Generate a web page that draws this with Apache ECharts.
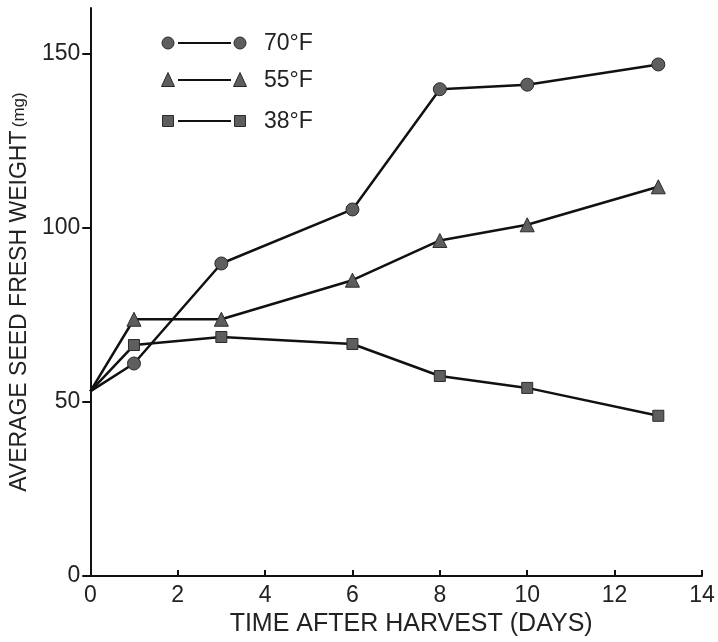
<!DOCTYPE html>
<html>
<head>
<meta charset="utf-8">
<script src="https://cdn.jsdelivr.net/npm/echarts@6/dist/echarts.min.js"></script>
<style>html,body{margin:0;padding:0;background:#fff}#c{width:718px;height:642px}</style>
</head>
<body>
<div id="c"></div>
<script>
const days = [0, 1, 3, 6, 8, 10, 13];
const temp70 = [53, 61, 89.7, 105.2, 139.7, 141, 146.8];
const temp55 = [53, 73.7, 73.7, 84.9, 96.3, 100.8, 111.7];
const temp38 = [53, 66.3, 68.6, 66.6, 57.4, 54, 46];
const seriesNames = ['70°F', '55°F', '38°F'];
const yTicks = [0, 50, 100, 150];
const xTicks = [0, 2, 4, 6, 8, 10, 12, 14];

const FONT = 'Liberation Sans';
const markFill = '#5e5e5e';
const markBorder = '#2a2a2a';

function pts(vals) { return days.map((d, i) => [d, vals[i]]); }

function mkSeries(name, vals, symbol, size) {
  return {
    name: name, type: 'line', data: pts(vals),
    symbol: symbol, symbolSize: size, showAllSymbol: true,
    lineStyle: { color: '#111', width: 2.5 },
    itemStyle: { color: markFill, borderColor: markBorder, borderWidth: 1 },
    z: 3
  };
}

const s70 = mkSeries(seriesNames[0], temp70, 'circle', 13);
const s55 = mkSeries(seriesNames[1], temp55, 'triangle', 14);
const s38 = mkSeries(seriesNames[2], temp38, 'rect', 11);
[s70, s55, s38].forEach(s => { s.data[0] = { value: s.data[0], symbol: 'none' }; });

function legendRow(y, symbol, size, label) {
  function mark(cx) {
    if (symbol === 'circle') return { type: 'circle', shape: { cx: cx, cy: y, r: size / 2 }, style: { fill: markFill, stroke: markBorder, lineWidth: 1 } };
    if (symbol === 'rect') return { type: 'rect', shape: { x: cx - size / 2, y: y - size / 2, width: size, height: size }, style: { fill: markFill, stroke: markBorder, lineWidth: 1 } };
    return { type: 'polygon', shape: { points: [[cx, y - size / 2 - 1], [cx + size / 2, y + size / 2], [cx - size / 2, y + size / 2]] }, style: { fill: markFill, stroke: markBorder, lineWidth: 1 } };
  }
  return [
    mark(168), mark(240),
    { type: 'line', shape: { x1: 178, y1: y, x2: 231, y2: y }, style: { stroke: '#111', lineWidth: 2 } },
    { type: 'text', left: 264, top: y - 11, style: { text: label, font: '23px "' + FONT + '"', fill: '#222' } }
  ];
}

const chart = echarts.init(document.getElementById('c'));
chart.setOption({
  animation: false,
  backgroundColor: '#fff',
  grid: { left: 90, right: 16, top: 8, bottom: 63 },
  xAxis: {
    type: 'value', min: 0, max: 14, interval: 2,
    name: 'TIME AFTER HARVEST (DAYS)', nameLocation: 'middle', nameGap: 34,
    nameTextStyle: { fontFamily: FONT, fontSize: 25, color: '#222', padding: [0, 0, 0, 30] },
    axisLine: { show: true, lineStyle: { color: '#111', width: 2 } },
    axisTick: { show: true, inside: true, length: 6, lineStyle: { color: '#111', width: 2 } },
    axisLabel: { fontFamily: FONT, fontSize: 23, color: '#222', margin: 8 },
    splitLine: { show: false }
  },
  yAxis: {
    type: 'value', min: 0, max: 163,
    name: '{a|AVERAGE SEED FRESH WEIGHT} {b|(mg)}', nameLocation: 'middle', nameGap: 57,
    nameTextStyle: { color: '#222', rich: { a: { fontFamily: FONT, fontSize: 23, color: '#222' }, b: { fontFamily: FONT, fontSize: 17, color: '#222' } } },
    axisLine: { show: true, lineStyle: { color: '#111', width: 2 } },
    axisTick: { show: true, inside: false, length: 8, customValues: yTicks, lineStyle: { color: '#111', width: 2 } },
    axisLabel: { fontFamily: FONT, fontSize: 23, color: '#222', margin: 10, customValues: yTicks },
    splitLine: { show: false }
  },
  series: [s70, s55, s38],
  graphic: [].concat(
    legendRow(43, 'circle', 12, seriesNames[0]),
    legendRow(80, 'triangle', 13, seriesNames[1]),
    legendRow(121, 'rect', 11, seriesNames[2])
  )
});
</script>
</body>
</html>
